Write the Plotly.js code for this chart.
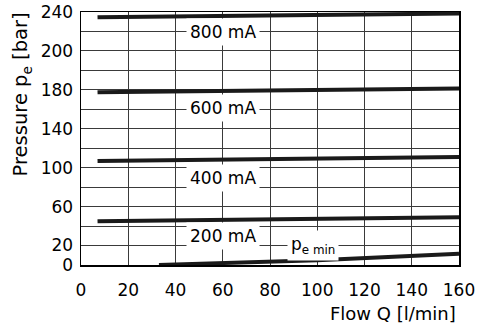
<!DOCTYPE html>
<html>
<head>
<meta charset="utf-8">
<script src="https://cdn.plot.ly/plotly-3.0.1.min.js"></script>
<style>html,body{margin:0;padding:0;background:#fff;}#chart{width:484px;height:324px;}</style>
</head>
<body>
<div id="chart"></div>
<script>
// Flow Q [l/min]
const flow = [7, 160];
// Pressure lines (axis units: one grid step = 20)
const p800 = [254.5, 258.5];
const p600 = [177.5, 181.5];
const p400 = [107, 111];
const p200 = [45, 49];
const pminFlow = [33, 100, 160];
const pminVals = [0, 5, 11.5];

const seriesLabels = ['800 mA', '600 mA', '400 mA', '200 mA', 'p<sub>e min</sub>'];
const labelX = [60, 60, 60, 60, 98];
const labelY = [239, 161, 89.5, 30, 20];

const yTickVals = [0, 20, 40, 60, 80, 100, 120, 140, 160, 180, 200, 220, 240, 260];
const yTickText = ['0', '20', '', '60', '', '100', '', '140', '', '180', '', '200', '', '240'];
const xTickVals = [0, 20, 40, 60, 80, 100, 120, 140, 160];

const lineStyle = {color: '#1a1a1a', width: 4};
const traces = [
  {x: flow, y: p800, mode: 'lines', line: lineStyle},
  {x: flow, y: p600, mode: 'lines', line: lineStyle},
  {x: flow, y: p400, mode: 'lines', line: lineStyle},
  {x: flow, y: p200, mode: 'lines', line: lineStyle},
  {x: pminFlow, y: pminVals, mode: 'lines', line: lineStyle}
];

const font = {family: 'DejaVu Sans, Arial, sans-serif', size: 17, color: '#000'};
const titleFont = {family: 'DejaVu Sans, Arial, sans-serif', size: 19.5, color: '#000'};

const annotations = seriesLabels.map((t, i) => ({
  x: labelX[i], y: labelY[i], xref: 'x', yref: 'y', text: t, showarrow: false,
  bgcolor: '#fff', borderpad: 3, font: font
}));
annotations.push({
  xref: 'paper', yref: 'paper', x: -0.155, y: 1.008, xanchor: 'center', yanchor: 'top',
  text: 'Pressure p<sub>e</sub> [bar]', textangle: -90, showarrow: false, font: titleFont
});
annotations.push({
  xref: 'paper', yref: 'paper', x: 0.997, y: -0.19, xanchor: 'right', yanchor: 'middle',
  text: 'Flow Q [l/min]', showarrow: false, font: {family: font.family, size: 18, color: '#000'}
});

const layout = {
  width: 484, height: 324,
  margin: {l: 81, r: 25, t: 12, b: 59},
  paper_bgcolor: '#fff', plot_bgcolor: '#fff',
  showlegend: false,
  font: font,
  xaxis: {
    range: [0, 160], tickmode: 'array', tickvals: xTickVals,
    showgrid: true, gridcolor: '#3a3a3a', gridwidth: 1,
    showline: true, linecolor: '#000', linewidth: 1.5, mirror: true,
    zeroline: false, ticks: '', tickfont: font, ticklabelstandoff: 9, fixedrange: true
  },
  yaxis: {
    range: [0, 260], tickmode: 'array', tickvals: yTickVals, ticktext: yTickText,
    showgrid: true, gridcolor: '#3a3a3a', gridwidth: 1,
    showline: true, linecolor: '#000', linewidth: 1.5, mirror: true,
    zeroline: false, ticks: '', tickfont: font, ticklabelstandoff: 3, fixedrange: true
  },
  annotations: annotations
};

Plotly.newPlot('chart', traces, layout, {displayModeBar: false, staticPlot: true});
</script>
</body>
</html>
